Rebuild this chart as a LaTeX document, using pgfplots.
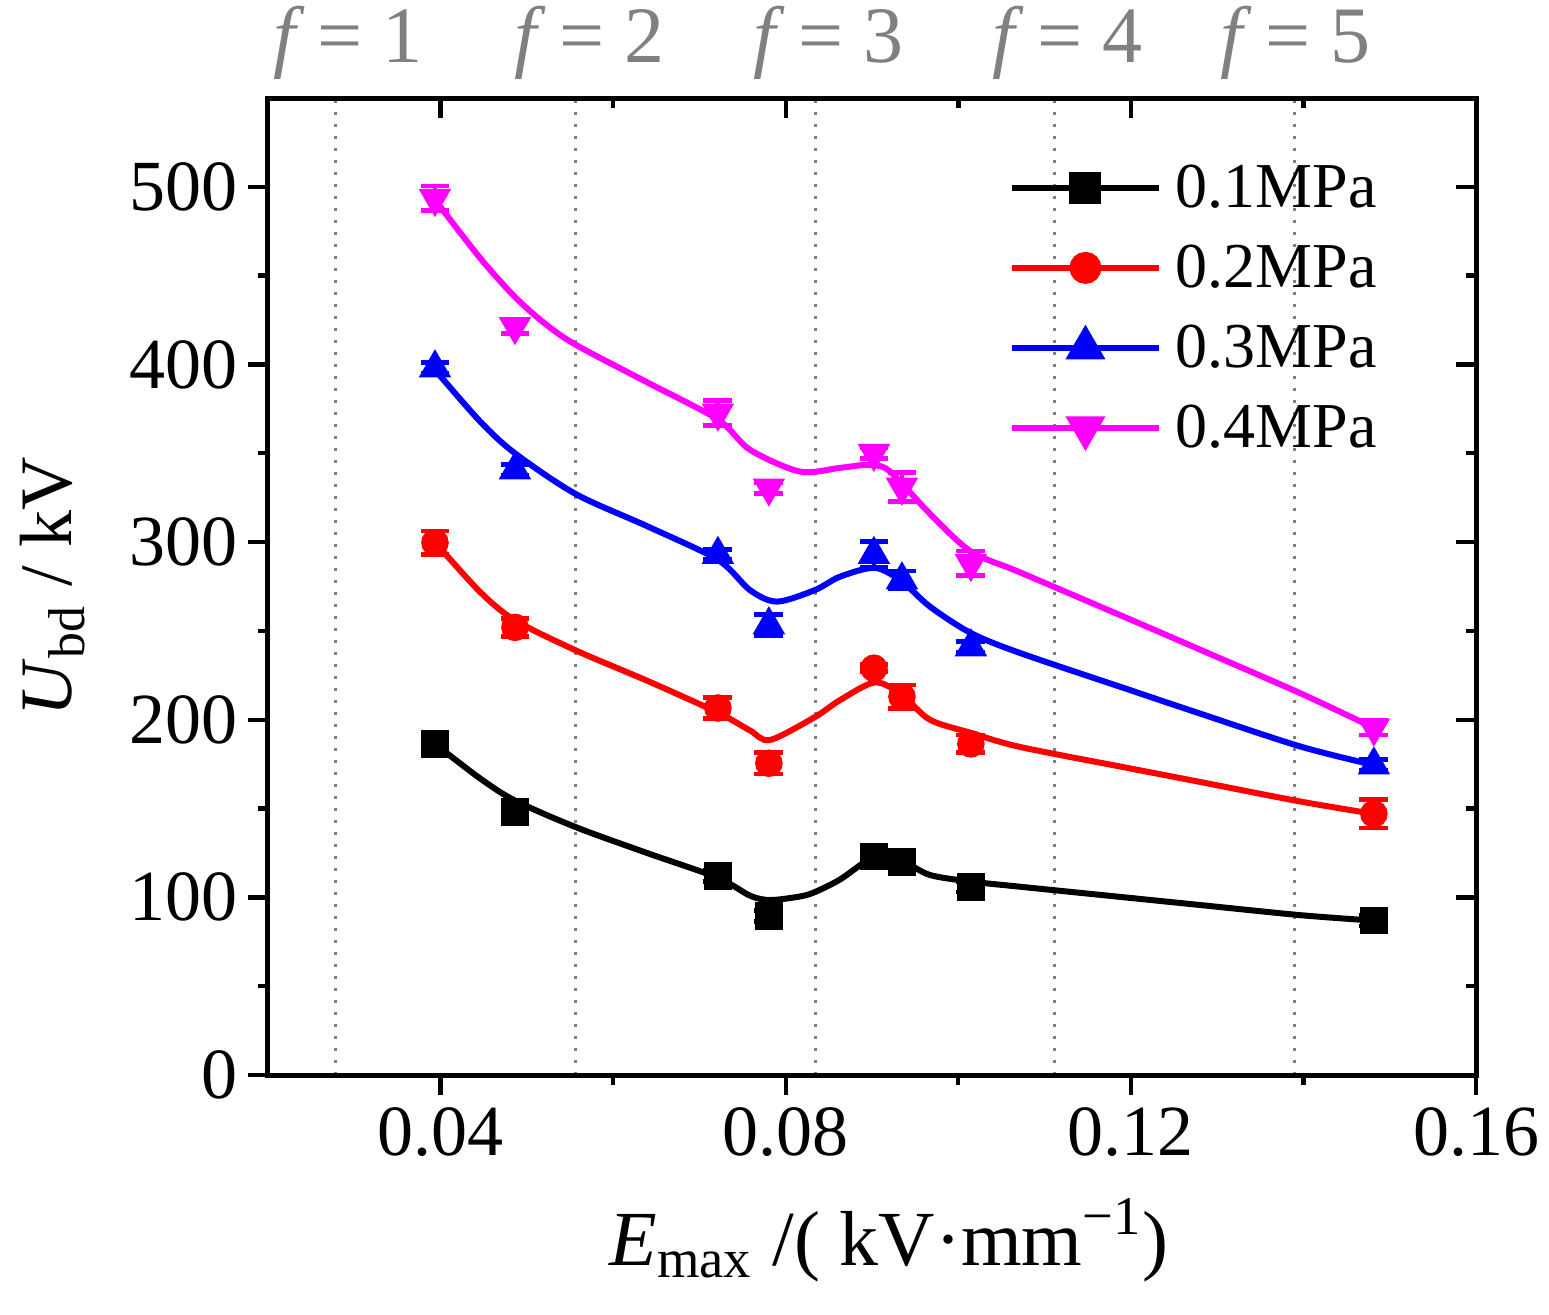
\documentclass[border=0pt]{standalone}
\usepackage{fontspec}
\setmainfont{Liberation Serif}
\usepackage{pgfplots}
\pgfplotsset{compat=1.18}
\definecolor{mag}{RGB}{255,0,255}
\definecolor{fgray}{RGB}{128,128,128}
\begin{document}
\begin{tikzpicture}
\useasboundingbox (-67pt,-59.75pt) rectangle (320.25pt,268.75pt);
\pgfplotsset{
  base/.style={at={(0,0)}, anchor=south west, scale only axis, width=302pt, height=244.25pt,
    xmin=0.02, xmax=0.16, ymin=0, ymax=550},
}
% grid lines (f) and labels
\begin{axis}[base, axis line style={draw=none},
  xtick={0.0278,0.0556,0.0834,0.1112,0.139}, xticklabels={}, ytick=\empty,
  major tick length=0pt, xmajorgrids,
  major grid style={fgray, line width=0.75pt, dash pattern=on 0.8pt off 2.2pt},
  clip=false]
  \node[text=fgray, anchor=base, font=\fontsize{20}{22}\selectfont] at (axis cs:0.02927,550) [yshift=9pt] {\textit{f}\,= 1};
  \node[text=fgray, anchor=base, font=\fontsize{20}{22}\selectfont] at (axis cs:0.05731,550) [yshift=9pt] {\textit{f}\,= 2};
  \node[text=fgray, anchor=base, font=\fontsize{20}{22}\selectfont] at (axis cs:0.08500,550) [yshift=9pt] {\textit{f}\,= 3};
  \node[text=fgray, anchor=base, font=\fontsize{20}{22}\selectfont] at (axis cs:0.11270,550) [yshift=9pt] {\textit{f}\,= 4};
  \node[text=fgray, anchor=base, font=\fontsize{20}{22}\selectfont] at (axis cs:0.13910,550) [yshift=9pt] {\textit{f}\,= 5};
\end{axis}
% inward ticks on top and right
\begin{axis}[base, axis line style={draw=none},
  xtick={0.04,0.08,0.12,0.16}, minor x tick num=1,
  ytick={0,100,...,500}, minor y tick num=1,
  xtick pos=upper, ytick pos=right, tick align=inside,
  xticklabels={}, yticklabels={},
  major tick length=5pt, minor tick length=2.5pt,
  tick style={line width=1.1pt, black}]
\end{axis}
% main axis
\begin{axis}[base,
  xtick={0.04,0.08,0.12,0.16}, xticklabels={0.04,0.08,0.12,0.16}, minor x tick num=1,
  ytick={0,100,...,500}, minor y tick num=1,
  xtick pos=lower, ytick pos=left, tick align=outside,
  major tick length=5pt, minor tick length=2.5pt,
  tick style={line width=1.1pt, black},
  axis line style={line width=1.25pt},
  tick label style={font=\fontsize{18}{20}\selectfont},
  /pgf/number format/assume math mode=true,
  yticklabel style={inner sep=0pt, anchor=east, xshift=-2.5pt},
  xticklabel style={inner sep=0pt, anchor=north, yshift=-3pt},
  xlabel={\textit{E}\textsubscript{max} /( kV·mm\textsuperscript{−1})},
  ylabel={\textit{U}\textsubscript{bd} / kV},
  xlabel style={at={(axis description cs:0.514,-0.1945)}, anchor=base, font=\fontsize{19.5}{22}\selectfont},
  ylabel style={at={(axis description cs:-0.1623,0.5)}, rotate=0, anchor=base, font=\fontsize{18.5}{22}\selectfont},
  legend style={draw=none, fill=none, at={(axis description cs:0.6127,0.9457)}, anchor=north west,
    inner xsep=0pt, inner ysep=0pt, row sep=2pt, column sep=3.5pt,
    nodes={inner sep=0pt, text height=14pt, text depth=4pt},
    font=\fontsize{16}{18}\selectfont, cells={anchor=west}},
  legend image code/.code={\draw[mark repeat=2, mark phase=2, #1] plot coordinates {(0pt,0pt) (18.375pt,0pt) (36.75pt,0pt)};},
  error bars/error bar style={line width=1.2pt},
  error bars/error mark options={line width=1.2pt, mark size=3.6pt, rotate=90},
]
\addlegendimage{black, line width=1.5pt, mark=square*, mark size=3.25pt}
\addlegendentry{0.1MPa}
\addlegendimage{red, line width=1.5pt, mark=*, mark size=3.25pt}
\addlegendentry{0.2MPa}
\addlegendimage{blue, line width=1.5pt, mark=triangle*, mark size=4.3pt}
\addlegendentry{0.3MPa}
\addlegendimage{mag, line width=1.5pt, mark=triangle*, mark size=4.3pt, mark options={rotate=180}}
\addlegendentry{0.4MPa}

% fitted curves
\addplot[black, line width=1.5pt, smooth, tension=0.5, forget plot] coordinates {
(0.03935,186.4) (0.04457,167) (0.04862,154.5) (0.05569,139.5) (0.06392,125) (0.07214,111)
(0.07585,101) (0.07817,98.5) (0.08165,100.5) (0.08338,103) (0.08628,110) (0.09034,123)
(0.09347,120.5) (0.09671,112.6) (0.10146,108.9) (0.10714,106) (0.1199,99.7) (0.128,95.7) (0.1396,90) (0.14816,86.9)};
\addplot[red, line width=1.5pt, smooth, tension=0.5, forget plot] coordinates {
(0.03935,300) (0.04457,272) (0.04862,256) (0.05569,239) (0.06392,222) (0.07214,204)
(0.07585,194) (0.07817,188.6) (0.08338,201.5) (0.08628,211) (0.09034,221) (0.09347,214)
(0.09671,200) (0.10146,192.6) (0.10714,184.7) (0.1199,172.6) (0.128,165) (0.1396,154) (0.14816,147)};
\addplot[blue, line width=1.5pt, smooth, tension=0.5, forget plot] coordinates {
(0.03935,397) (0.04457,368) (0.04862,350) (0.05569,327) (0.06392,309) (0.07214,290)
(0.07585,273) (0.07898,266.5) (0.08338,273) (0.08628,280.5) (0.09034,285.5) (0.09347,277.8)
(0.09671,263.7) (0.10146,248.8) (0.10714,237.6) (0.1199,216.7) (0.128,203.5) (0.1396,185) (0.14816,174.5)};
\addplot[mag, line width=1.5pt, smooth, tension=0.5, forget plot] coordinates {
(0.03935,492.7) (0.04457,460) (0.04862,438) (0.0521,423) (0.05569,411) (0.06392,390) (0.07214,369)
(0.07585,352) (0.08165,339.7) (0.08628,341.8) (0.08941,343.5) (0.0915,341.8) (0.09347,333)
(0.09671,316) (0.10146,294.7) (0.10714,283) (0.1199,256.5) (0.128,239.5) (0.1396,215) (0.14816,195.4)};

% measured points with error bars
\addplot[black, only marks, mark=square*, mark size=3.25pt, forget plot,
  error bars/.cd, y dir=both, y explicit] coordinates {
(0.03935,186.4) +- (0,3) (0.04862,148) +- (0,3) (0.07214,112) +- (0,3) (0.07805,89.5) +- (0,3)
(0.09022,123) +- (0,3) (0.09347,120) +- (0,3) (0.10146,106) +- (0,3) (0.14816,86.9) +- (0,3)};
\addplot[red, only marks, mark=*, mark size=3.25pt, forget plot,
  error bars/.cd, y dir=both, y explicit] coordinates {
(0.03935,299.7) +- (0,6.5) (0.04862,252) +- (0,5) (0.07214,206.6) +- (0,6) (0.07805,175.5) +- (0,6)
(0.09022,229) +- (0,2) (0.09347,213) +- (0,6.5) (0.10146,186.4) +- (0,5) (0.14816,147) +- (0,8)};
\addplot[blue, only marks, mark=triangle*, mark size=4.3pt, forget plot,
  error bars/.cd, y dir=both, y explicit] coordinates {
(0.03935,398) +- (0,3) (0.04862,340.6) +- (0,3) (0.07214,293) +- (0,3) (0.07805,253.4) +- (0,6)
(0.09022,293) +- (0,7.5) (0.09347,278.7) +- (0,5) (0.10146,241) +- (0,3) (0.14816,174.5) +- (0,3)};
\addplot[mag, only marks, mark=triangle*, mark size=4.3pt, mark options={rotate=180}, forget plot,
  error bars/.cd, y dir=both, y explicit] coordinates {
(0.03935,493.5) +- (0,7) (0.04862,421.4) +- (0,4) (0.07214,372.7) +- (0,7) (0.07805,330.5) +- (0,3)
(0.09022,350) +- (0,3) (0.09347,331) +- (0,8) (0.10146,288) +- (0,7) (0.14816,195.4) +- (0,4)};
\end{axis}
\end{tikzpicture}
\end{document}
